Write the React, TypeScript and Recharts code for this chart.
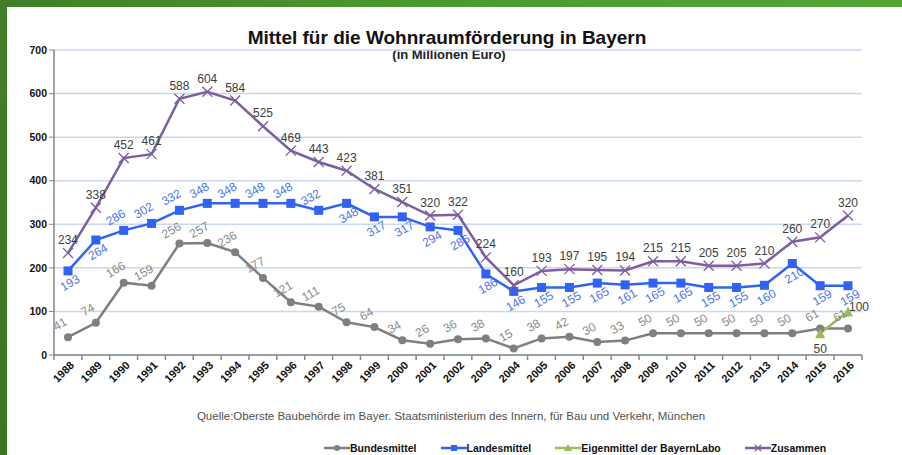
import React from 'react';
import { LineChart, Line, XAxis, YAxis, CartesianGrid } from 'recharts';

const years = ['1988','1989','1990','1991','1992','1993','1994','1995','1996','1997','1998','1999','2000','2001','2002','2003','2004','2005','2006','2007','2008','2009','2010','2011','2012','2013','2014','2015','2016'];
const bundesmittel = [41,74,166,159,256,257,236,177,121,111,75,64,34,26,36,38,15,38,42,30,33,50,50,50,50,50,50,61,61];
const landesmittel = [193,264,286,302,332,348,348,348,348,332,348,317,317,294,286,186,146,155,155,165,161,165,165,155,155,160,210,159,159];
const eigenmittel: (number | null)[] = [null,null,null,null,null,null,null,null,null,null,null,null,null,null,null,null,null,null,null,null,null,null,null,null,null,null,null,50,100];
const zusammen = [234,338,452,461,588,604,584,525,469,443,423,381,351,320,322,224,160,193,197,195,194,215,215,205,205,210,260,270,320];
const yTicks = [0,100,200,300,400,500,600,700];
const blueLabelAbove = ['1990','1991','1992','1993','1994','1995','1996','1997'];

const data = years.map((y, i) => ({
  year: y,
  bund: bundesmittel[i],
  land: landesmittel[i],
  eigen: eigenmittel[i],
  zus: zusammen[i],
}));

const FONT = '"Liberation Sans", Arial, sans-serif';
const GRAY = '#7f7f7f';
const BLUE = '#2f62f5';
const PURPLE = '#7d5fa0';
const GREEN = '#9bbb59';
const HALF_BAND = 14;

const GrayDot = (p: any) => {
  if (p.cx == null || p.cy == null) return <g key={p.index} />;
  return <circle key={p.index} cx={p.cx} cy={p.cy} r={4} fill={GRAY} />;
};
const BlueDot = (p: any) => {
  if (p.cx == null || p.cy == null) return <g key={p.index} />;
  return <rect key={p.index} x={p.cx - 4.5} y={p.cy - 4.5} width={9} height={9} fill={BLUE} />;
};
const PurpleDot = (p: any) => {
  if (p.cx == null || p.cy == null) return <g key={p.index} />;
  const s = 5;
  return (
    <g key={p.index} stroke={PURPLE} strokeWidth={1.3}>
      <line x1={p.cx - s} y1={p.cy - s} x2={p.cx + s} y2={p.cy + s} />
      <line x1={p.cx - s} y1={p.cy + s} x2={p.cx + s} y2={p.cy - s} />
    </g>
  );
};
const GreenDot = (p: any) => {
  if (p.cx == null || p.cy == null) return <g key={p.index} />;
  const s = 5;
  return <path key={p.index} d={`M${p.cx},${p.cy - s}L${p.cx + s},${p.cy + s}L${p.cx - s},${p.cy + s}Z`} fill={GREEN} />;
};

const GrayLabel = (p: any) => {
  if (p.value == null) return null;
  const x = p.x - 8, y = p.y - 13;
  return (
    <text transform={`translate(${x},${y}) rotate(-30)`} textAnchor="middle" dominantBaseline="central" fontSize={12} fill="#8a8a8a" fontFamily={FONT}>{p.value}</text>
  );
};
const BlueLabel = (p: any) => {
  if (p.value == null) return null;
  const above = blueLabelAbove.includes(years[p.index]);
  const x = above ? p.x - 8 : p.x + 2;
  const y = above ? p.y - 13 : p.y + 12;
  return (
    <text transform={`translate(${x},${y}) rotate(-30)`} textAnchor="middle" dominantBaseline="central" fontSize={12} fill="#4a74f0" fontFamily={FONT}>{p.value}</text>
  );
};
const PurpleLabel = (p: any) => {
  if (p.value == null) return null;
  return (
    <text x={p.x} y={p.y - 13} textAnchor="middle" dominantBaseline="central" fontSize={12} fill="#404040" fontFamily={FONT}>{p.value}</text>
  );
};
const GreenLabel = (p: any) => {
  if (p.value == null) return null;
  const last = p.index === years.length - 1;
  return (
    <text x={last ? p.x + 11 : p.x} y={last ? p.y - 4 : p.y + 16} textAnchor="middle" dominantBaseline="central" fontSize={12} fill="#404040" fontFamily={FONT}>{p.value}</text>
  );
};

const XTick = (p: any) => {
  const { x, y, payload, index } = p;
  const isLast = index === years.length - 1;
  return (
    <g>
      <line x1={x - HALF_BAND} x2={x - HALF_BAND} y1={y} y2={y + 5} stroke="#868686" strokeWidth={1.5} />
      {isLast && <line x1={x + HALF_BAND} x2={x + HALF_BAND} y1={y} y2={y + 5} stroke="#868686" strokeWidth={1.5} />}
      <text transform={`translate(${x + 4},${y + 8}) rotate(-45)`} textAnchor="end" dominantBaseline="central" fontSize={11} fontWeight="bold" fill="#111" fontFamily={FONT}>{payload.value}</text>
    </g>
  );
};

const legendItems = [
  { name: 'Bundesmittel', color: GRAY, marker: 'circle' },
  { name: 'Landesmittel', color: BLUE, marker: 'square' },
  { name: 'Eigenmittel der BayernLabo', color: GREEN, marker: 'tri' },
  { name: 'Zusammen', color: PURPLE, marker: 'x' },
];

const LegendMarker = ({ color, marker }: { color: string; marker: string }) => (
  <svg width={26} height={10} style={{ display: 'block' }}>
    <line x1={0} x2={26} y1={5} y2={5} stroke={color} strokeWidth={2.5} />
    {marker === 'circle' && <circle cx={13} cy={5} r={3} fill={color} />}
    {marker === 'square' && <rect x={10} y={2} width={6} height={6} fill={color} />}
    {marker === 'tri' && <path d="M13,1L17,8L9,8Z" fill={color} />}
    {marker === 'x' && (
      <g stroke={color} strokeWidth={1.2}>
        <line x1={10} y1={2} x2={16} y2={8} />
        <line x1={10} y1={8} x2={16} y2={2} />
      </g>
    )}
  </svg>
);

export default function App() {
  return (
    <div style={{ position: 'absolute', left: 0, top: 0, width: 902, height: 455, background: '#fff', overflow: 'hidden', fontFamily: FONT }}>
      <div style={{ position: 'absolute', left: 0, top: 0, width: 902, height: 7, background: 'linear-gradient(90deg, #3f7f28, #4c9a2e 50%, #55a535)' }} />
      <div style={{ position: 'absolute', left: 0, top: 0, width: 7, height: 455, background: 'linear-gradient(180deg, #427f27, #3b7424)' }} />
      <div style={{ position: 'absolute', left: 0, top: 27, width: 894, textAlign: 'center', fontSize: 19, fontWeight: 'bold', color: '#111' }}>Mittel für die Wohnraumförderung in Bayern</div>
      <div style={{ position: 'absolute', left: 0, top: 47, width: 898, textAlign: 'center', fontSize: 13, fontWeight: 'bold', color: '#222' }}>(in Millionen Euro)</div>
      <div style={{ position: 'absolute', left: 0, top: 0 }}>
        <LineChart width={902} height={455} data={data} margin={{ top: 50, right: 40, left: 8, bottom: 70 }}>
          <CartesianGrid horizontal vertical={false} stroke="#c9d8ec" strokeWidth={1.5} />
          <XAxis dataKey="year" height={30} padding={{ left: HALF_BAND, right: HALF_BAND }} axisLine={{ stroke: '#868686', strokeWidth: 1.5 }} tickLine={false} tickSize={0} tickMargin={0} interval={0} tick={<XTick />} />
          <YAxis width={46} domain={[0, 700]} ticks={yTicks} interval={0} axisLine={{ stroke: '#868686', strokeWidth: 1.5 }} tickLine={{ stroke: '#868686' }} tickSize={5} tick={{ fontSize: 10.5, fontWeight: 'bold', fill: '#111', fontFamily: FONT }} />
          <Line dataKey="bund" stroke={GRAY} strokeWidth={2.5} dot={GrayDot} isAnimationActive={false} label={GrayLabel} />
          <Line dataKey="land" stroke={BLUE} strokeWidth={2.5} dot={BlueDot} isAnimationActive={false} label={BlueLabel} />
          <Line dataKey="eigen" stroke={GREEN} strokeWidth={2.5} dot={GreenDot} isAnimationActive={false} label={GreenLabel} connectNulls={false} />
          <Line dataKey="zus" stroke={PURPLE} strokeWidth={2.5} dot={PurpleDot} isAnimationActive={false} label={PurpleLabel} />
        </LineChart>
      </div>
      <div style={{ position: 'absolute', left: 0, top: 410, width: 902, textAlign: 'center', fontSize: 11.5, color: '#505050' }}>Quelle:Oberste Baubehörde im Bayer. Staatsministerium des Innern, für Bau und Verkehr, München</div>
      <div style={{ position: 'absolute', left: 324, top: 441, height: 13, display: 'flex', alignItems: 'center', fontSize: 10.5, lineHeight: '12px', fontWeight: 'bold', color: '#111' }}>
        {legendItems.map((it) => (
          <div key={it.name} style={{ display: 'flex', alignItems: 'center', marginRight: 24 }}>
            <LegendMarker color={it.color} marker={it.marker} />
            <span>{it.name}</span>
          </div>
        ))}
      </div>
    </div>
  );
}
